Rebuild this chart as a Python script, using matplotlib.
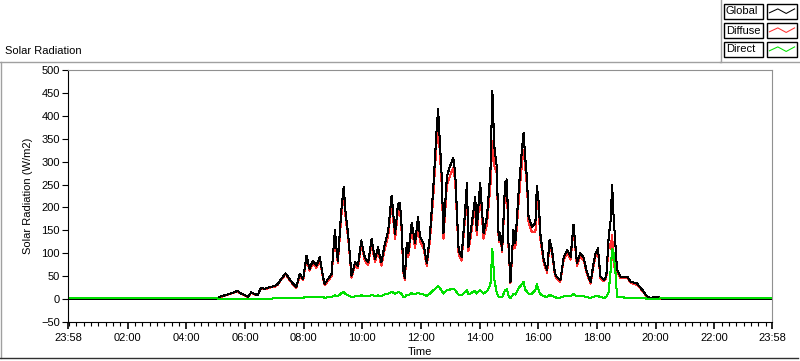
import matplotlib.pyplot as plt
from matplotlib.patches import Rectangle
from matplotlib.lines import Line2D
from matplotlib.ticker import MultipleLocator

plt.rcParams['font.family'] = ['Liberation Sans', 'DejaVu Sans']
plt.rcParams['font.size'] = 8

# readings (time of day, W/m2)
times = ["00:00", "04:59", "05:04", "05:11", "05:21", "05:32", "05:38", "05:45", "05:52", "05:59",
         "06:06", "06:13", "06:19", "06:26", "06:33", "06:40", "06:47", "06:54", "07:01", "07:07",
         "07:14", "07:23", "07:31", "07:38", "07:45", "07:52", "07:59", "08:06", "08:12", "08:19",
         "08:26", "08:33", "08:40", "08:43", "08:50", "08:57", "09:04", "09:07", "09:10", "09:17",
         "09:22", "09:26", "09:31", "09:38", "09:45", "09:51", "09:58", "10:05", "10:12", "10:19",
         "10:26", "10:32", "10:39", "10:46", "10:53", "11:00", "11:07", "11:13", "11:17", "11:20",
         "11:24", "11:27", "11:31", "11:34", "11:41", "11:48", "11:54", "11:58", "12:05", "12:12",
         "12:18", "12:25", "12:32", "12:35", "12:39", "12:42", "12:46", "12:53", "12:59", "13:06",
         "13:10", "13:17", "13:23", "13:30", "13:34", "13:37", "13:44", "13:51", "13:54", "14:01",
         "14:08", "14:15", "14:22", "14:26", "14:30", "14:35", "14:39", "14:42", "14:46", "14:52",
         "14:56", "14:59", "15:03", "15:09", "15:13", "15:20", "15:27", "15:30", "15:33", "15:37",
         "15:40", "15:47", "15:54", "15:57", "16:01", "16:04", "16:11", "16:18", "16:23", "16:28",
         "16:34", "16:38", "16:45", "16:52", "16:59", "17:06", "17:12", "17:19", "17:26", "17:33",
         "17:39", "17:47", "17:53", "17:57", "18:02", "18:07", "18:14", "18:19", "18:24", "18:28",
         "18:31", "18:34", "18:38", "18:41", "18:48", "19:02", "19:09", "19:22", "19:33", "19:43",
         "19:50", "19:57", "20:07", "20:14", "23:58"]

global_rad = [0, 0, 2, 6, 9, 13, 15, 18, 12, 9,
              5, 15, 11, 9, 25, 22, 25, 27, 29, 33,
              44, 56, 44, 34, 27, 55, 44, 95, 66, 84,
              73, 91, 47, 33, 44, 55, 150, 113, 84, 193,
              245, 186, 142, 51, 80, 73, 128, 91, 80, 131,
              87, 113, 80, 120, 150, 226, 142, 208, 210, 166,
              63, 46, 123, 100, 166, 122, 180, 136, 122, 79,
              136, 239, 370, 414, 333, 276, 144, 268, 289, 309,
              276, 107, 92, 188, 254, 114, 166, 223, 151, 254,
              144, 180, 276, 454, 333, 289, 129, 144, 107, 254,
              261, 122, 37, 151, 122, 239, 333, 363, 311, 261,
              180, 158, 166, 246, 210, 144, 85, 63, 129, 107,
              56, 48, 41, 92, 107, 92, 162, 79, 100, 90,
              60, 37, 78, 100, 111, 49, 42, 49, 136, 173,
              250, 180, 115, 64, 49, 49, 38, 34, 20, 5,
              2, 5, 4, 0, 0]

diffuse_rad = [0, 0, 2, 5, 8, 12, 14, 17, 11, 8,
               4, 14, 10, 8, 24, 21, 24, 26, 27, 31,
               42, 54, 42, 32, 24, 52, 41, 90, 62, 80,
               68, 86, 43, 30, 40, 50, 142, 106, 78, 180,
               230, 175, 134, 47, 74, 67, 120, 84, 74, 122,
               80, 105, 73, 110, 138, 210, 130, 193, 196, 155,
               58, 42, 113, 92, 153, 112, 166, 125, 112, 72,
               124, 220, 345, 385, 310, 257, 132, 248, 268, 287,
               256, 98, 84, 173, 235, 104, 152, 205, 139, 234,
               132, 163, 245, 345, 290, 276, 125, 139, 103, 235,
               240, 114, 35, 140, 112, 215, 300, 325, 290, 245,
               168, 146, 146, 213, 192, 133, 79, 58, 120, 100,
               52, 45, 38, 86, 100, 86, 151, 73, 93, 84,
               56, 34, 73, 94, 104, 45, 39, 45, 120, 110,
               140, 80, 59, 59, 45, 46, 35, 31, 18, 4,
               1, 4, 3, 0, 0]

direct_rad = [3, 3, 1, 1, 1, 1, 1, 1, 1, 1,
              1, 1, 1, 1, 1, 1, 1, 1, 2, 2,
              2, 2, 2, 2, 3, 3, 3, 5, 4, 4,
              5, 5, 4, 3, 4, 5, 8, 7, 6, 13,
              15, 11, 8, 4, 6, 6, 8, 7, 6, 9,
              7, 8, 7, 10, 12, 16, 12, 15, 14, 11,
              5, 4, 10, 8, 13, 10, 14, 11, 10, 7,
              12, 19, 25, 29, 23, 19, 12, 20, 21, 22,
              20, 9, 8, 15, 19, 10, 14, 18, 12, 20,
              12, 17, 31, 109, 43, 13, 4, 5, 4, 19,
              21, 8, 2, 11, 10, 24, 33, 38, 21, 16,
              12, 12, 20, 33, 18, 11, 6, 5, 9, 7,
              4, 3, 3, 6, 7, 6, 11, 6, 7, 6,
              4, 3, 5, 6, 7, 4, 3, 4, 16, 63,
              110, 100, 56, 5, 4, 3, 3, 3, 2, 1,
              1, 1, 1, 3, 3]

tick_labels = ["23:58", "02:00", "04:00", "06:00", "08:00", "10:00", "12:00",
               "14:00", "16:00", "18:00", "20:00", "22:00", "23:58"]
series_names = ["Global", "Diffuse", "Direct"]
series_colors = ["black", "#ff3030", "#00e000"]


def hours(s):
    h, m = s.split(":")
    return int(h) + int(m) / 60.0


t = [hours(s) for s in times]
t_start = hours("23:58") - 24
t_end = hours("23:58")

W, H = 800, 361
fig = plt.figure(figsize=(W / 100, H / 100), dpi=100)
fig.patch.set_facecolor("white")


def fx(px):
    return px / W


def fy(py):
    return 1 - py / H


ax = fig.add_axes([fx(68), fy(322), fx(772) - fx(68), fy(70) - fy(322)])
lw = 0.75
ax.plot(t, diffuse_rad, color=series_colors[1], lw=lw, antialiased=False)
ax.plot(t, global_rad, color=series_colors[0], lw=lw, antialiased=False)
ax.plot(t, direct_rad, color=series_colors[2], lw=lw, antialiased=False)

ax.set_xlim(t_start, t_end)
ax.set_ylim(-50, 500)
ax.set_yticks(range(-50, 501, 50))
ax.set_xticks([t_start] + list(range(2, 24, 2)) + [t_end])
ax.set_xticklabels(tick_labels)
ax.xaxis.set_minor_locator(MultipleLocator(0.25))
ax.tick_params(axis="x", which="major", direction="out", length=5, width=1.2, pad=3)
ax.tick_params(axis="x", which="minor", direction="out", length=3, width=0.8)
ax.tick_params(axis="y", direction="out", length=4, width=0.8, pad=2)
for side in ["left", "bottom"]:
    ax.spines[side].set_color("black")
for side in ["top", "right"]:
    ax.spines[side].set_color("#909090")
ax.set_ylabel("Solar Radiation (W/m2)")
ax.yaxis.set_label_coords(-0.05, 0.5)
ax.set_xlabel("Time", va="center")
ax.xaxis.set_label_coords(0.5, -0.118)

fig.text(fx(5), fy(51), "Solar Radiation", ha="left", va="center")

# outer panel frame
frame = dict(color="#a0a0a0", lw=1, zorder=5)
fig.add_artist(Line2D([fx(0), fx(720)], [fy(61.5), fy(61.5)], **frame))
fig.add_artist(Line2D([fx(0.5), fx(0.5)], [fy(61.5), fy(358)], **frame))
fig.add_artist(Line2D([fx(0), fx(798)], [fy(358), fy(358)], color="#303030", lw=1, zorder=5))

# legend panel
fig.add_artist(Line2D([fx(720.5), fx(720.5)], [fy(0), fy(61.5)], **frame))
fig.add_artist(Line2D([fx(720), fx(800)], [fy(61.5), fy(61.5)], **frame))
row_tops = [4, 23, 42]
for name, color, top in zip(series_names, series_colors, row_tops):
    fig.add_artist(Rectangle((fx(724), fy(top + 15)), fx(763) - fx(724), fy(top) - fy(top + 15),
                             transform=fig.transFigure, fill=False, ec="black", lw=1))
    fig.text(fx(726), fy(top + 7.5), name, ha="left", va="center", fontsize=8)
    fig.add_artist(Rectangle((fx(767), fy(top + 15)), fx(797) - fx(767), fy(top) - fy(top + 15),
                             transform=fig.transFigure, fill=False, ec="black", lw=1))
    sw = fig.add_axes([fx(768), fy(top + 14), fx(796) - fx(768), fy(top + 1) - fy(top + 14)])
    sw.set_axis_off()
    sw.set_xlim(0, 1)
    sw.set_ylim(0, 1)
    sw.plot([0.05, 0.35, 0.65, 0.95], [0.4, 0.7, 0.35, 0.7], color=color, lw=lw)

fig.savefig("out.png", dpi=100)
